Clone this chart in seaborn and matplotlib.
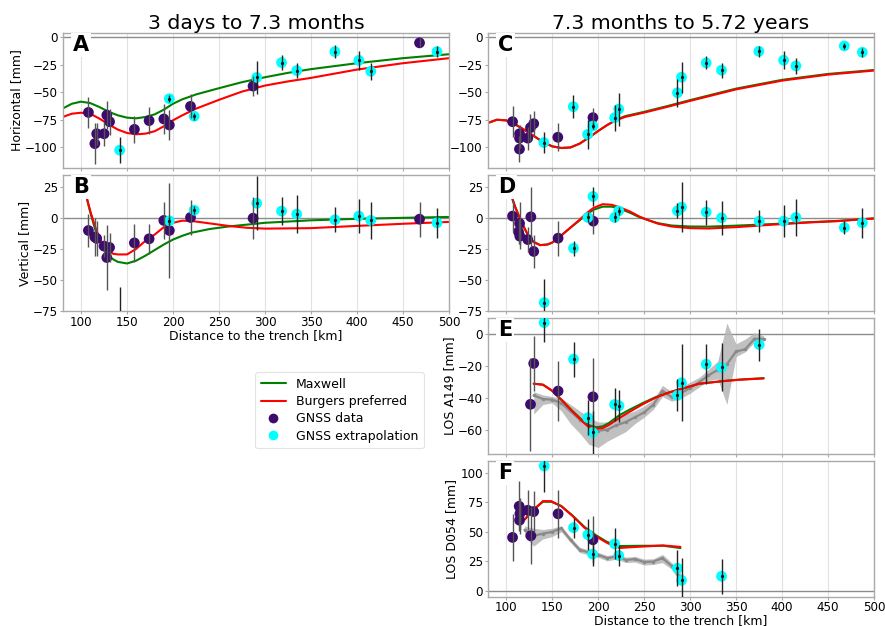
import numpy as np
import pandas as pd
import matplotlib
matplotlib.use("Agg")
import matplotlib.pyplot as plt
import seaborn as sns
from matplotlib.lines import Line2D

# ---------------- data ----------------
# Panel A (horizontal, early)
A_dat_x = [108, 115, 117, 125, 128, 131, 158, 174, 190, 196, 219, 287, 468]
A_dat_y = [-68.5, -97, -88, -88, -71, -77, -84, -76, -74.5, -80, -63, -44.5, -5]
A_dat_e = [14, 19, 10, 11, 13, 12, 12, 12, 14, 14, 11, 9, 4]
A_ext_x = [142, 196, 223, 291, 318, 334.5, 376, 402, 415, 487]
A_ext_y = [-103, -56, -72, -36.6, -23, -30.3, -13, -21, -31, -13]
A_ext_e = [12, 3, 3, 15, 7, 7, 6, 9, 8, 5]
A_mod_x = [80, 90, 100, 110, 120, 130, 140, 150, 160, 170, 180, 190, 200, 210, 225, 250, 275, 300, 325, 350, 400, 450, 500]
A_max_y = [-65, -60.6, -58.7, -60, -63.6, -67.9, -71.2, -73.3, -73.9, -72.7, -70.3, -66, -60.6, -56.6, -52.1, -46.4, -40.9, -36.4, -32.4, -29, -23.6, -19, -15.4]
A_bur_y = [-72.7, -69.7, -68.8, -69.7, -74.2, -79.4, -84.2, -87.3, -88.5, -87.9, -85.7, -81.2, -75.7, -71.2, -65.1, -57, -49.5, -44, -40.2, -37, -29.4, -23.6, -19]

# Panel B (vertical, early)
B_dat_x = [108, 115, 117, 125, 128, 131, 158, 174, 190, 196, 219, 287, 468]
B_dat_y = [-9.7, -15, -16.1, -22.3, -31.5, -23.4, -19.7, -16.4, -1.6, -9.7, 0.8, 0.2, -0.6]
B_dat_e = [13, 15, 14, 9, 26, 12, 15, 12, 15, 38, 14, 17, 14]
B_ext_x = [142, 196, 223, 291, 318, 334.5, 376, 402, 415, 487]
B_ext_y = [-80, -1.9, 6.7, 12.3, 5.9, 3.5, -1.1, 1.9, -1.6, -3.5]
B_ext_e = [25, 3, 3, 22, 11, 15, 10, 14, 15, 12]
B_mod_x = [100, 105, 110, 115, 120, 125, 130, 135, 140, 150, 160, 170, 180, 190, 200, 210, 220, 240, 260, 280, 300, 350, 400, 450, 500]
B_max_y = [38, 20, 5, -8, -18, -25, -30, -33, -35, -36.3, -34, -30, -25.5, -21, -17, -14, -11.5, -8.5, -6.5, -5, -3.5, -1.5, -0.3, 0.5, 1.2]
B_bur_y = [38, 20, 6, -6, -16, -22, -26, -28.5, -29, -29, -24.5, -18, -13, -7, -3.5, -1.8, -2, -4, -6, -7.5, -8.2, -7.8, -6, -4.3, -2.8]

# Panel C (horizontal, late)
C_dat_x = [107, 114.5, 114.6, 114.6, 123.5, 126.5, 130, 156.2, 194.4]
C_dat_y = [-77, -102, -88, -92, -92, -82.4, -78.8, -91.2, -73.3]
C_dat_e = [14, 12, 8, 9, 10.6, 12, 12, 13, 9]
C_ext_x = [141, 173, 188.6, 194.4, 218, 222.4, 286.3, 290.7, 317.5, 334.2, 374.8, 401.7, 415.1, 467.7, 487.3]
C_ext_y = [-96, -63.3, -88.6, -81, -73.3, -65.5, -50.6, -36.4, -23.3, -30, -12.7, -20.9, -26, -7.8, -13.6]
C_ext_e = [10, 10.6, 13, 3, 12, 15, 13, 14, 6, 7, 5, 8, 7, 3, 4]
C_mod_x = [80, 90, 100, 110, 120, 130, 140, 150, 160, 170, 180, 190, 200, 210, 220, 230, 250, 275, 300, 350, 400, 450, 500]
C_max_y = [-78.2, -75.2, -75.8, -79.5, -84.5, -90, -95.5, -99.5, -101, -100.5, -97, -91.5, -85.5, -80, -75, -71.8, -68, -62.8, -57.3, -46.8, -38.8, -33.4, -29.8]
C_bur_y = [-78.2, -75.2, -75.8, -79.5, -84.5, -90, -95.5, -99.5, -101, -100.5, -97, -91.5, -85.5, -80, -75.5, -72.5, -68.7, -63.5, -58, -47.5, -39.5, -34, -30.3]

# Panel D (vertical, late)
D_dat_x = [107, 114.6, 113.5, 114.9, 123.5, 126.9, 130, 156.5, 194.7]
D_dat_y = [1.9, -4, -10.8, -14.3, -17, 1.3, -26.6, -15.9, -2.2]
D_dat_e = [13, 17, 10, 10, 10, 24, 13, 14, 10]
D_ext_x = [141.4, 173.3, 188.9, 194.4, 218, 222.4, 286.3, 290.7, 317.5, 334.2, 375.2, 401.7, 415.1, 467.7, 487.3]
D_ext_y = [-67.8, -24, 0.8, 17.7, 0.8, 6.1, 6.1, 9.1, 5.1, 0.5, -2.2, -2.2, 0.8, -7.3, -3.5]
D_ext_e = [19, 6, 4, 8, 4, 3, 6, 20, 10, 13.5, 9, 13, 15, 5, 12]
D_mod_x = [107, 110, 115, 120, 125, 130, 137, 145, 150, 158, 165, 173, 180, 187, 195, 205, 215, 225, 235, 245, 255, 265, 280, 300, 320, 350, 390, 430, 460, 500]
D_max_y = [15.3, 9, 0, -8, -15, -19, -21.5, -21, -19.5, -15, -10.5, -5.6, -1.5, 3, 7, 9.5, 9.5, 7.5, 4.5, 1, -1.5, -3.8, -5.7, -6.5, -6.6, -5.8, -4.5, -3, -2, 0]
D_bur_y = [15.3, 9, 0, -8, -15, -19, -21.5, -21, -19.5, -15, -10.5, -5.4, -1, 4, 8.5, 11.5, 11, 8.5, 5.5, 1.5, -1.5, -4.2, -6.5, -7.8, -8.1, -7, -5, -3.2, -2.2, 0]

# Panel E (LOS A149)
E_dat_x = [126.5, 130, 156.5, 194.4]
E_dat_y = [-43.9, -18.3, -35.6, -39.2]
E_dat_e = [29, 17, 19, 24]
E_ext_x = [141.4, 173.3, 188.9, 194, 218, 222.7, 286.3, 290.7, 317.5, 334.2, 375.2]
E_ext_y = [7.3, -15.6, -52.3, -61.5, -44, -44.8, -38.3, -30.4, -18.8, -20.8, -6.5]
E_ext_e = [12, 11, 11, 13.5, 10.6, 10, 10, 24, 12.5, 15, 10]
E_mod_x = [130, 140, 150, 160, 172, 183, 189, 198, 205, 212, 223, 234, 249, 263, 278, 296, 310, 336, 354, 380]
E_max_y = [-31, -31.6, -35.4, -41, -48, -54, -56.8, -58.3, -57.7, -55.5, -50.8, -47.3, -43, -39.3, -36.3, -33.3, -31, -29.3, -28.4, -27.5]
E_bur_y = [-31, -31.6, -35.4, -41, -48.3, -54.6, -57.7, -59.2, -58.8, -56.7, -52.5, -48.7, -43.7, -39.6, -36.3, -33.3, -31, -29.4, -28.5, -27.7]
E_sar_x = [130, 140, 150, 160, 170, 180, 190, 200, 210, 220, 230, 240, 250, 260, 270, 280, 290, 300, 310, 320, 330, 340, 350, 360, 370, 380]
E_sar_y = [-38.3, -40.6, -41, -43.1, -48.3, -53.5, -57.7, -60.4, -59.8, -57, -55, -52, -49, -44.2, -35.4, -39.4, -36.9, -33.7, -30, -25.8, -22.3, -18.8, -10.8, -9.4, -2.9, -2.9]
E_sar_lo = [-50, -44, -43, -48, -56, -62, -69, -71, -67, -64, -61, -56, -52, -47, -39, -42, -40, -37, -33, -29, -28, -44, -14, -11, -5, -4]
E_sar_hi = [-36, -38, -39, -40, -44, -48, -52, -55, -55, -52, -50, -48, -45, -41, -32, -36, -33, -30, -27, -22, -17, 7, -6, -3, 1, -1]

# Panel F (LOS D054)
F_dat_x = [107, 114.2, 115, 114.6, 123.5, 126.9, 130, 156.5, 194.4]
F_dat_y = [45.3, 71.6, 65.4, 59.8, 68.2, 46.7, 67.1, 65.2, 43.3]
F_dat_e = [20, 21, 13, 12, 17, 24, 17, 20, 20]
F_ext_x = [141.4, 173.3, 188.9, 194, 218, 222.4, 286.3, 290.7, 334.2]
F_ext_y = [105.6, 53.5, 47.6, 31.2, 39.9, 30, 19.3, 9.1, 12.5]
F_ext_e = [22, 8.5, 13, 10, 13, 9, 15, 19, 15]
F_mod_x = [120, 130, 140, 149, 160, 172.6, 185.4, 198, 209, 218, 223.5, 241.6, 270.7, 289.5]
F_max_y = [60.3, 68.8, 75.4, 75.4, 71.8, 63.5, 54, 47, 41.8, 38.8, 38, 38.2, 38.3, 36.3]
F_bur_y = [60.3, 68.8, 75.9, 75.9, 71.6, 63.1, 53.3, 46.1, 41, 37.6, 36.4, 37.3, 38.5, 37.3]
F_sar_x = [120, 130, 140, 150, 160, 170, 180, 190, 200, 210, 220, 230, 240, 250, 260, 270, 280, 290]
F_sar_y = [51.8, 46.7, 48.5, 50, 53, 43.3, 34.8, 32.6, 30.6, 27.8, 29.2, 26.3, 26.9, 24.6, 24.9, 27.8, 21.2, 11]
F_sar_lo = [46, 38, 44, 46, 50, 41, 32.5, 30.5, 28.5, 25.5, 27, 24, 24.5, 22, 22.5, 24, 18.5, 6]
F_sar_hi = [55, 53, 52, 53, 55, 45.5, 37, 34.7, 32.7, 30, 31.4, 28.6, 29.3, 27, 27.3, 31, 24, 15]

titles = ["3 days to 7.3 months", "7.3 months to 5.72 years"]
xticks = [100, 150, 200, 250, 300, 350, 400, 450, 500]

# ---------------- style ----------------
sns.set_theme(style="white")
plt.rcParams['font.family'] = ['DejaVu Sans']
plt.rcParams['axes.edgecolor'] = '#aaaaaa'
plt.rcParams['axes.linewidth'] = 1.0
plt.rcParams['text.color'] = 'black'
plt.rcParams['axes.labelcolor'] = 'black'
plt.rcParams['xtick.color'] = 'black'
plt.rcParams['ytick.color'] = 'black'

C_MAX = 'green'
C_BUR = 'red'
C_DAT = '#3d0a6e'
C_EXT = 'cyan'

fig = plt.figure(figsize=(8.85, 6.26), dpi=100)

lx, rx, w = 0.0708, 0.5511, 0.4365
rects = {
    'A': [lx, 0.7321, w, 0.2152],
    'B': [lx, 0.5024, w, 0.2180],
    'C': [rx, 0.7321, w, 0.2152],
    'D': [rx, 0.5024, w, 0.2180],
    'E': [rx, 0.2748, w, 0.2168],
    'F': [rx, 0.0463, w, 0.2177],
}

panels = {
    'A': (A_dat_x, A_dat_y, A_dat_e, A_ext_x, A_ext_y, A_ext_e, A_mod_x, A_max_y, A_bur_y, None),
    'B': (B_dat_x, B_dat_y, B_dat_e, B_ext_x, B_ext_y, B_ext_e, B_mod_x, B_max_y, B_bur_y, None),
    'C': (C_dat_x, C_dat_y, C_dat_e, C_ext_x, C_ext_y, C_ext_e, C_mod_x, C_max_y, C_bur_y, None),
    'D': (D_dat_x, D_dat_y, D_dat_e, D_ext_x, D_ext_y, D_ext_e, D_mod_x, D_max_y, D_bur_y, None),
    'E': (E_dat_x, E_dat_y, E_dat_e, E_ext_x, E_ext_y, E_ext_e, E_mod_x, E_max_y, E_bur_y,
          (E_sar_x, E_sar_y, E_sar_lo, E_sar_hi)),
    'F': (F_dat_x, F_dat_y, F_dat_e, F_ext_x, F_ext_y, F_ext_e, F_mod_x, F_max_y, F_bur_y,
          (F_sar_x, F_sar_y, F_sar_lo, F_sar_hi)),
}
ylims = {'A': (-119, 4), 'B': (-75, 35), 'C': (-119, 4), 'D': (-75, 35), 'E': (-75, 10), 'F': (-5, 110)}
yticks = {'A': [0, -25, -50, -75, -100], 'B': [25, 0, -25, -50, -75],
          'C': [0, -25, -50, -75, -100], 'D': [25, 0, -25, -50, -75],
          'E': [0, -20, -40, -60], 'F': [0, 25, 50, 75, 100]}
ylabels = {'A': 'Horizontal [mm]', 'B': 'Vertical [mm]', 'E': 'LOS A149 [mm]', 'F': 'LOS D054 [mm]'}

for key, rect in rects.items():
    ax = fig.add_axes(rect)
    dx, dy, de, ex, ey, ee, mx, maxy, bury, sar = panels[key]
    ax.set_xlim(80, 500)
    ax.set_ylim(*ylims[key])
    for xv in xticks:
        ax.axvline(xv, color='#e2e2e2', lw=0.8, zorder=0)
    ax.axhline(0, color='#8c8c8c', lw=1.0, zorder=0.5)

    if sar is not None:
        sx, sy, slo, shi = sar
        ax.fill_between(sx, slo, shi, color='#b5b5b5', alpha=0.85, lw=0, zorder=1)
        sns.lineplot(x=sx, y=sy, ax=ax, color='#8a8a8a', lw=1.6, marker='o', ms=2.5,
                     markeredgewidth=0, sort=False, estimator=None, zorder=1.5)

    sns.lineplot(x=mx, y=maxy, ax=ax, color=C_MAX, lw=1.5, sort=False, estimator=None, zorder=2)
    sns.lineplot(x=mx, y=bury, ax=ax, color=C_BUR, lw=1.5, sort=False, estimator=None, zorder=2.1)

    sns.scatterplot(x=dx, y=dy, ax=ax, color=C_DAT, s=60, edgecolor='none', zorder=3)
    sns.scatterplot(x=ex, y=ey, ax=ax, color=C_EXT, s=60, edgecolor='none', zorder=3)
    ax.errorbar(dx, dy, yerr=de, fmt='none', ecolor='#555555', elinewidth=1.0, zorder=4)
    ax.errorbar(ex, ey, yerr=ee, fmt='o', color='#111111', ms=1.3, ecolor='#222222',
                elinewidth=1.0, zorder=4)

    ax.set_xticks(xticks)
    ax.set_yticks(yticks[key])
    ax.tick_params(axis='both', which='major', direction='out', length=2, width=0.8,
                   color='#aaaaaa', labelcolor='black', labelsize=8.6, pad=1.5,
                   bottom=True, left=True)
    ax.tick_params(axis='x', pad=1.0)
    if key in ('B', 'F'):
        ax.set_xlabel('Distance to the trench [km]', fontsize=9, labelpad=0)
    else:
        ax.tick_params(axis='x', labelbottom=False)
        ax.set_xlabel('')
    ax.set_ylabel(ylabels.get(key, ''), fontsize=9, labelpad=1.5)
    for sp in ax.spines.values():
        sp.set_color('#aaaaaa')
        sp.set_linewidth(1.0)
    ax.text(0.026, 0.985, key, transform=ax.transAxes, fontsize=15, fontweight='bold',
            va='top', ha='left', zorder=10,
            bbox=dict(facecolor='white', edgecolor='none', pad=1.5))

fig.text(0.2891, 0.9537, titles[0], fontsize=14.7, ha='center', va='baseline')
fig.text(0.7694, 0.9537, titles[1], fontsize=14.7, ha='center', va='baseline')

handles = [
    Line2D([0], [0], color=C_MAX, lw=1.5),
    Line2D([0], [0], color=C_BUR, lw=1.5),
    Line2D([0], [0], marker='o', color='none', markerfacecolor=C_DAT, markeredgecolor='none', ms=7),
    Line2D([0], [0], marker='o', color='none', markerfacecolor=C_EXT, markeredgecolor='none', ms=7),
]
labels = ['Maxwell', 'Burgers preferred', 'GNSS data', 'GNSS extrapolation']
leg = fig.legend(handles, labels, loc='upper left', bbox_to_anchor=(255 / 885, 1 - 372 / 626),
                 borderaxespad=0, fontsize=9, frameon=True, fancybox=True, edgecolor='#dddddd',
                 handlelength=2.0, borderpad=0.45, labelspacing=0.35)
leg.get_frame().set_linewidth(0.8)

fig.savefig('out.png', dpi=100)
